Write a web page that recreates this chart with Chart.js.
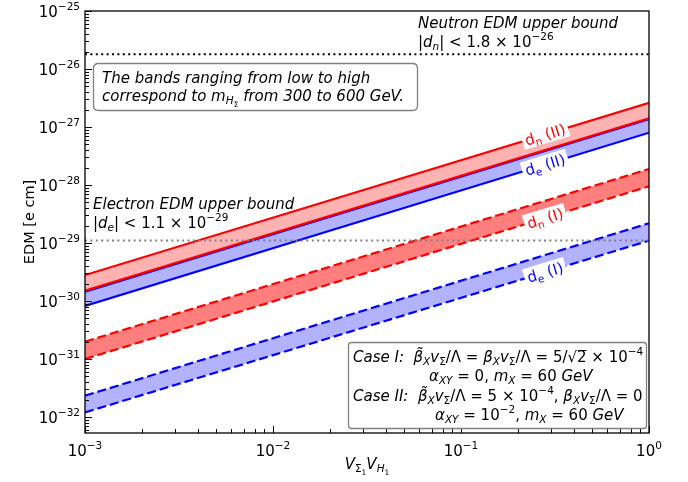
<!DOCTYPE html>
<html><head><meta charset="utf-8">
<script src="https://cdn.jsdelivr.net/npm/chart.js@4/dist/chart.umd.min.js"></script>
<style>html,body{margin:0;padding:0;background:#fff}canvas{display:block}</style>
</head><body>
<canvas id="c" width="688" height="482"></canvas>
<script>
// ---- data ----
const xEnds = [1e-3, 1];
const dnII_hi = [2.8e-30, 2.62e-27];
const dnII_lo = [1.51e-30, 1.41e-27];
const deII_hi = [1.45e-30, 1.37e-27];
const deII_lo = [8.2e-31, 7.98e-28];
const dnI_hi  = [1.99e-31, 1.89e-28];
const dnI_lo  = [1.0e-31, 9.5e-29];
const deI_hi  = [2.33e-32, 2.19e-29];
const deI_lo  = [1.2e-32, 1.1e-29];
const neutronBound = 1.8e-26;
const electronBound = 1.1e-29;
const xTickExps = [-3, -2, -1, 0];
const yTickExps = [-32, -31, -30, -29, -28, -27, -26, -25];
const labelNames = ['n (II)', 'e (II)', 'n (I)', 'e (I)'];
const labelX = [0.28, 0.28, 0.28, 0.28];

const FONT = '"DejaVu Sans"';
function S(t, i, v, o) { return {t, i: !!i, v: v || 'n', o: !!o}; }
function segFont(seg, size) {
  const k = seg.v === 'sub' || seg.v === 'sup' ? 0.7 : seg.v === 'sub2' ? 0.5 : 1;
  return (seg.i ? 'oblique ' : '') + (size * k).toFixed(2) + 'px ' + FONT;
}
function segDy(seg, size) {
  if (seg.v === 'sub') return size * 0.22;
  if (seg.v === 'sup') return -size * 0.45;
  if (seg.v === 'sub2') return size * 0.38;
  return 0;
}
function richWidth(ctx, segs, size) {
  let w = 0;
  for (const s of segs) { ctx.font = segFont(s, size); w += ctx.measureText(s.t).width; }
  return w;
}
function drawRich(ctx, segs, x, y, size, align, color) {
  const w = richWidth(ctx, segs, size);
  let cx = align === 'center' ? x - w / 2 : align === 'right' ? x - w : x;
  ctx.textBaseline = 'alphabetic';
  ctx.textAlign = 'left';
  ctx.fillStyle = color || '#000';
  for (const s of segs) {
    ctx.font = segFont(s, size);
    const sw = ctx.measureText(s.t).width;
    const dy = segDy(s, size);
    ctx.fillText(s.t, cx, y + dy);
    if (s.o) {
      ctx.fillRect(cx + 1, y + dy - size * 0.8, sw - 1, 1);
    }
    cx += sw;
  }
  return w;
}

function pts(arr) { return xEnds.map((x, i) => ({x, y: arr[i]})); }
const RED = '#ff0000', BLUE = '#0000ff';
const LW = 2.2, DASH = [9, 4];

const datasets = [
  {data: pts(dnII_hi), borderColor: RED, borderWidth: LW, fill: '+1', backgroundColor: 'rgba(255,0,0,0.3)'},
  {data: pts(dnII_lo), borderColor: RED, borderWidth: LW, fill: false},
  {data: pts(deII_hi), borderColor: BLUE, borderWidth: LW, fill: '+1', backgroundColor: 'rgba(0,0,255,0.3)'},
  {data: pts(deII_lo), borderColor: BLUE, borderWidth: LW, fill: false},
  {data: pts(dnI_hi), borderColor: RED, borderWidth: LW, borderDash: DASH, fill: '+1', backgroundColor: 'rgba(255,0,0,0.5)'},
  {data: pts(dnI_lo), borderColor: RED, borderWidth: LW, borderDash: DASH, fill: false},
  {data: pts(deI_hi), borderColor: BLUE, borderWidth: LW, borderDash: DASH, fill: '+1', backgroundColor: 'rgba(0,0,255,0.3)'},
  {data: pts(deI_lo), borderColor: BLUE, borderWidth: LW, borderDash: DASH, fill: false},
  {data: xEnds.map(x => ({x, y: neutronBound})), borderColor: '#000', borderWidth: 2, borderDash: [2, 3.4], fill: false, order: -1},
  {data: xEnds.map(x => ({x, y: electronBound})), borderColor: '#808080', borderWidth: 2, borderDash: [2, 3.4], fill: false, order: -1}
];
datasets.forEach(d => { d.pointRadius = 0; d.tension = 0; d.borderCapStyle = 'butt'; });

const labelDatasetIdx = [0, 3, 5, 7];
const labelColors = [RED, BLUE, RED, BLUE];

const overlay = {
  id: 'overlay',
  afterDatasetsDraw(chart) {
    const ctx = chart.ctx;
    const xs = chart.scales.x;
    const a = chart.chartArea;
    ctx.save();
    ctx.beginPath(); ctx.rect(a.left, a.top, a.right - a.left, a.bottom - a.top); ctx.clip();
    labelNames.forEach((name, k) => {
      const meta = chart.getDatasetMeta(labelDatasetIdx[k]);
      const p0 = meta.data[0], p1 = meta.data[1];
      const px = xs.getPixelForValue(labelX[k]);
      const t = (px - p0.x) / (p1.x - p0.x);
      const py = p0.y + t * (p1.y - p0.y);
      const ang = Math.atan2(p1.y - p0.y, p1.x - p0.x);
      const segs = [S('d'), S(name.split(' ')[0], false, 'sub'), S(' ' + name.split(' ')[1])];
      const size = 15;
      const w = richWidth(ctx, segs, size);
      ctx.save();
      ctx.translate(px, py);
      ctx.rotate(ang);
      ctx.fillStyle = '#fff';
      ctx.fillRect(-w / 2 - 3, -size * 0.62, w + 6, size * 1.2);
      drawRich(ctx, segs, 0, size * 0.36, size, 'center', labelColors[k]);
      ctx.restore();
    });
    ctx.restore();
  },
  afterDraw(chart) {
    const ctx = chart.ctx;
    const xs = chart.scales.x, ys = chart.scales.y;
    const a = chart.chartArea;
    ctx.save();
    ctx.strokeStyle = '#000'; ctx.lineWidth = 1;
    const xmin = xs.min, xmax = xs.max, ymin = ys.min, ymax = ys.max;
    for (let e = -4; e <= 0; e++) {
      for (let m = 1; m <= 9; m++) {
        const v = m * Math.pow(10, e);
        if (v < xmin * 0.999 || v > xmax * 1.001) continue;
        const px = Math.round(xs.getPixelForValue(v)) + 0.5;
        const len = m === 1 ? 7 : 4;
        ctx.beginPath(); ctx.moveTo(px, a.bottom); ctx.lineTo(px, a.bottom - len); ctx.stroke();
      }
    }
    for (let e = -33; e <= -25; e++) {
      for (let m = 1; m <= 9; m++) {
        const v = m * Math.pow(10, e);
        if (v < ymin * 0.999 || v > ymax * 1.001) continue;
        const py = Math.round(ys.getPixelForValue(v)) + 0.5;
        const len = m === 1 ? 7 : 4;
        ctx.beginPath(); ctx.moveTo(a.left, py); ctx.lineTo(a.left + len, py); ctx.stroke();
      }
    }
    ctx.lineWidth = 1.3;
    ctx.strokeRect(a.left, a.top, a.right - a.left, a.bottom - a.top);
    xTickExps.forEach(e => {
      const px = xs.getPixelForValue(Math.pow(10, e));
      const segs = [S('10'), S(e < 0 ? '\u2212' + (-e) : String(e), false, 'sup')];
      drawRich(ctx, segs, px, a.bottom + 23, 15, 'center');
    });
    yTickExps.forEach(e => {
      const py = ys.getPixelForValue(Math.pow(10, e));
      const segs = [S('10'), S('\u2212' + (-e), false, 'sup')];
      drawRich(ctx, segs, a.left - 5, py + 6, 15, 'right');
    });
    drawRich(ctx, [S('V', true), S('\u03a3', false, 'sub'), S('1', false, 'sub2'), S('V', true), S('H', true, 'sub'), S('1', false, 'sub2')],
      (a.left + a.right) / 2, 469, 15, 'center');
    ctx.save();
    ctx.translate(29, (a.top + a.bottom) / 2);
    ctx.rotate(-Math.PI / 2);
    drawRich(ctx, [S('EDM [e cm]')], 0, 5, 14.5, 'center');
    ctx.restore();

    drawRich(ctx, [S('Neutron EDM upper bound', true)], 418, 28, 15, 'left');
    drawRich(ctx, [S('|'), S('d', true), S('n', true, 'sub'), S('| < 1.8 \u00d7 10'), S('\u221226', false, 'sup')], 418, 47, 15, 'left');
    drawRich(ctx, [S('Electron EDM upper bound', true)], 93, 209, 15, 'left');
    drawRich(ctx, [S('|'), S('d', true), S('e', true, 'sub'), S('| < 1.1 \u00d7 10'), S('\u221229', false, 'sup')], 93, 228, 15, 'left');

    function rbox(x, y, w, h, r) {
      ctx.beginPath();
      ctx.moveTo(x + r, y); ctx.lineTo(x + w - r, y); ctx.quadraticCurveTo(x + w, y, x + w, y + r);
      ctx.lineTo(x + w, y + h - r); ctx.quadraticCurveTo(x + w, y + h, x + w - r, y + h);
      ctx.lineTo(x + r, y + h); ctx.quadraticCurveTo(x, y + h, x, y + h - r);
      ctx.lineTo(x, y + r); ctx.quadraticCurveTo(x, y, x + r, y); ctx.closePath();
      ctx.fillStyle = '#fff'; ctx.fill();
      ctx.strokeStyle = '#808080'; ctx.lineWidth = 1.3; ctx.stroke();
    }
    rbox(93.5, 63.5, 324, 47, 5);
    drawRich(ctx, [S('The bands ranging from low to high', true)], 102, 83, 15, 'left');
    drawRich(ctx, [S('correspond to ', true), S('m', true), S('H', true, 'sub'), S('\u03a3', false, 'sub2'), S(' from 300 to 600 GeV.', true)], 102, 101, 15, 'left');

    rbox(348.5, 342.5, 298, 86, 3);
    const bt = S('\u03b2\u0303', true), b = S('\u03b2', true);
    drawRich(ctx, [S('Case I:  ', true), bt, S('X', true, 'sub'), S('v', true), S('\u03a3', false, 'sub'), S('/\u039b = '),
      b, S('X', true, 'sub'), S('v', true), S('\u03a3', false, 'sub'), S('/\u039b = 5/\u221a'), S('2', false, 'n', true), S(' \u00d7 10'), S('\u22124', false, 'sup')],
      353, 362, 15, 'left');
    drawRich(ctx, [S('\u03b1', true), S('XY', true, 'sub'), S(' = 0, '), S('m', true), S('X', true, 'sub'), S(' = 60 '), S('GeV', true)], 429, 381, 15, 'left');
    drawRich(ctx, [S('Case II:  ', true), bt, S('X', true, 'sub'), S('v', true), S('\u03a3', false, 'sub'), S('/\u039b = 5 \u00d7 10'), S('\u22124', false, 'sup'),
      S(', '), b, S('X', true, 'sub'), S('v', true), S('\u03a3', false, 'sub'), S('/\u039b = 0')], 353, 401, 15, 'left');
    drawRich(ctx, [S('\u03b1', true), S('XY', true, 'sub'), S(' = 10'), S('\u22122', false, 'sup'), S(', '), S('m', true), S('X', true, 'sub'), S(' = 60 '), S('GeV', true)], 435, 420, 15, 'left');
    ctx.restore();
  }
};

new Chart(document.getElementById('c'), {
  type: 'line',
  data: {datasets},
  options: {
    responsive: false, animation: false,
    layout: {padding: {left: 85, right: 39, top: 11, bottom: 49}},
    plugins: {legend: {display: false}, tooltip: {enabled: false}},
    scales: {
      x: {type: 'logarithmic', min: 1e-3, max: 1, ticks: {display: false}, grid: {display: false, drawTicks: false}, border: {display: false},
          afterFit: s => { s.height = 0; }},
      y: {type: 'logarithmic', min: 5.3e-33, max: 1e-25, ticks: {display: false}, grid: {display: false, drawTicks: false}, border: {display: false},
          afterFit: s => { s.width = 0; }}
    }
  },
  plugins: [overlay]
});
</script>
</body></html>
